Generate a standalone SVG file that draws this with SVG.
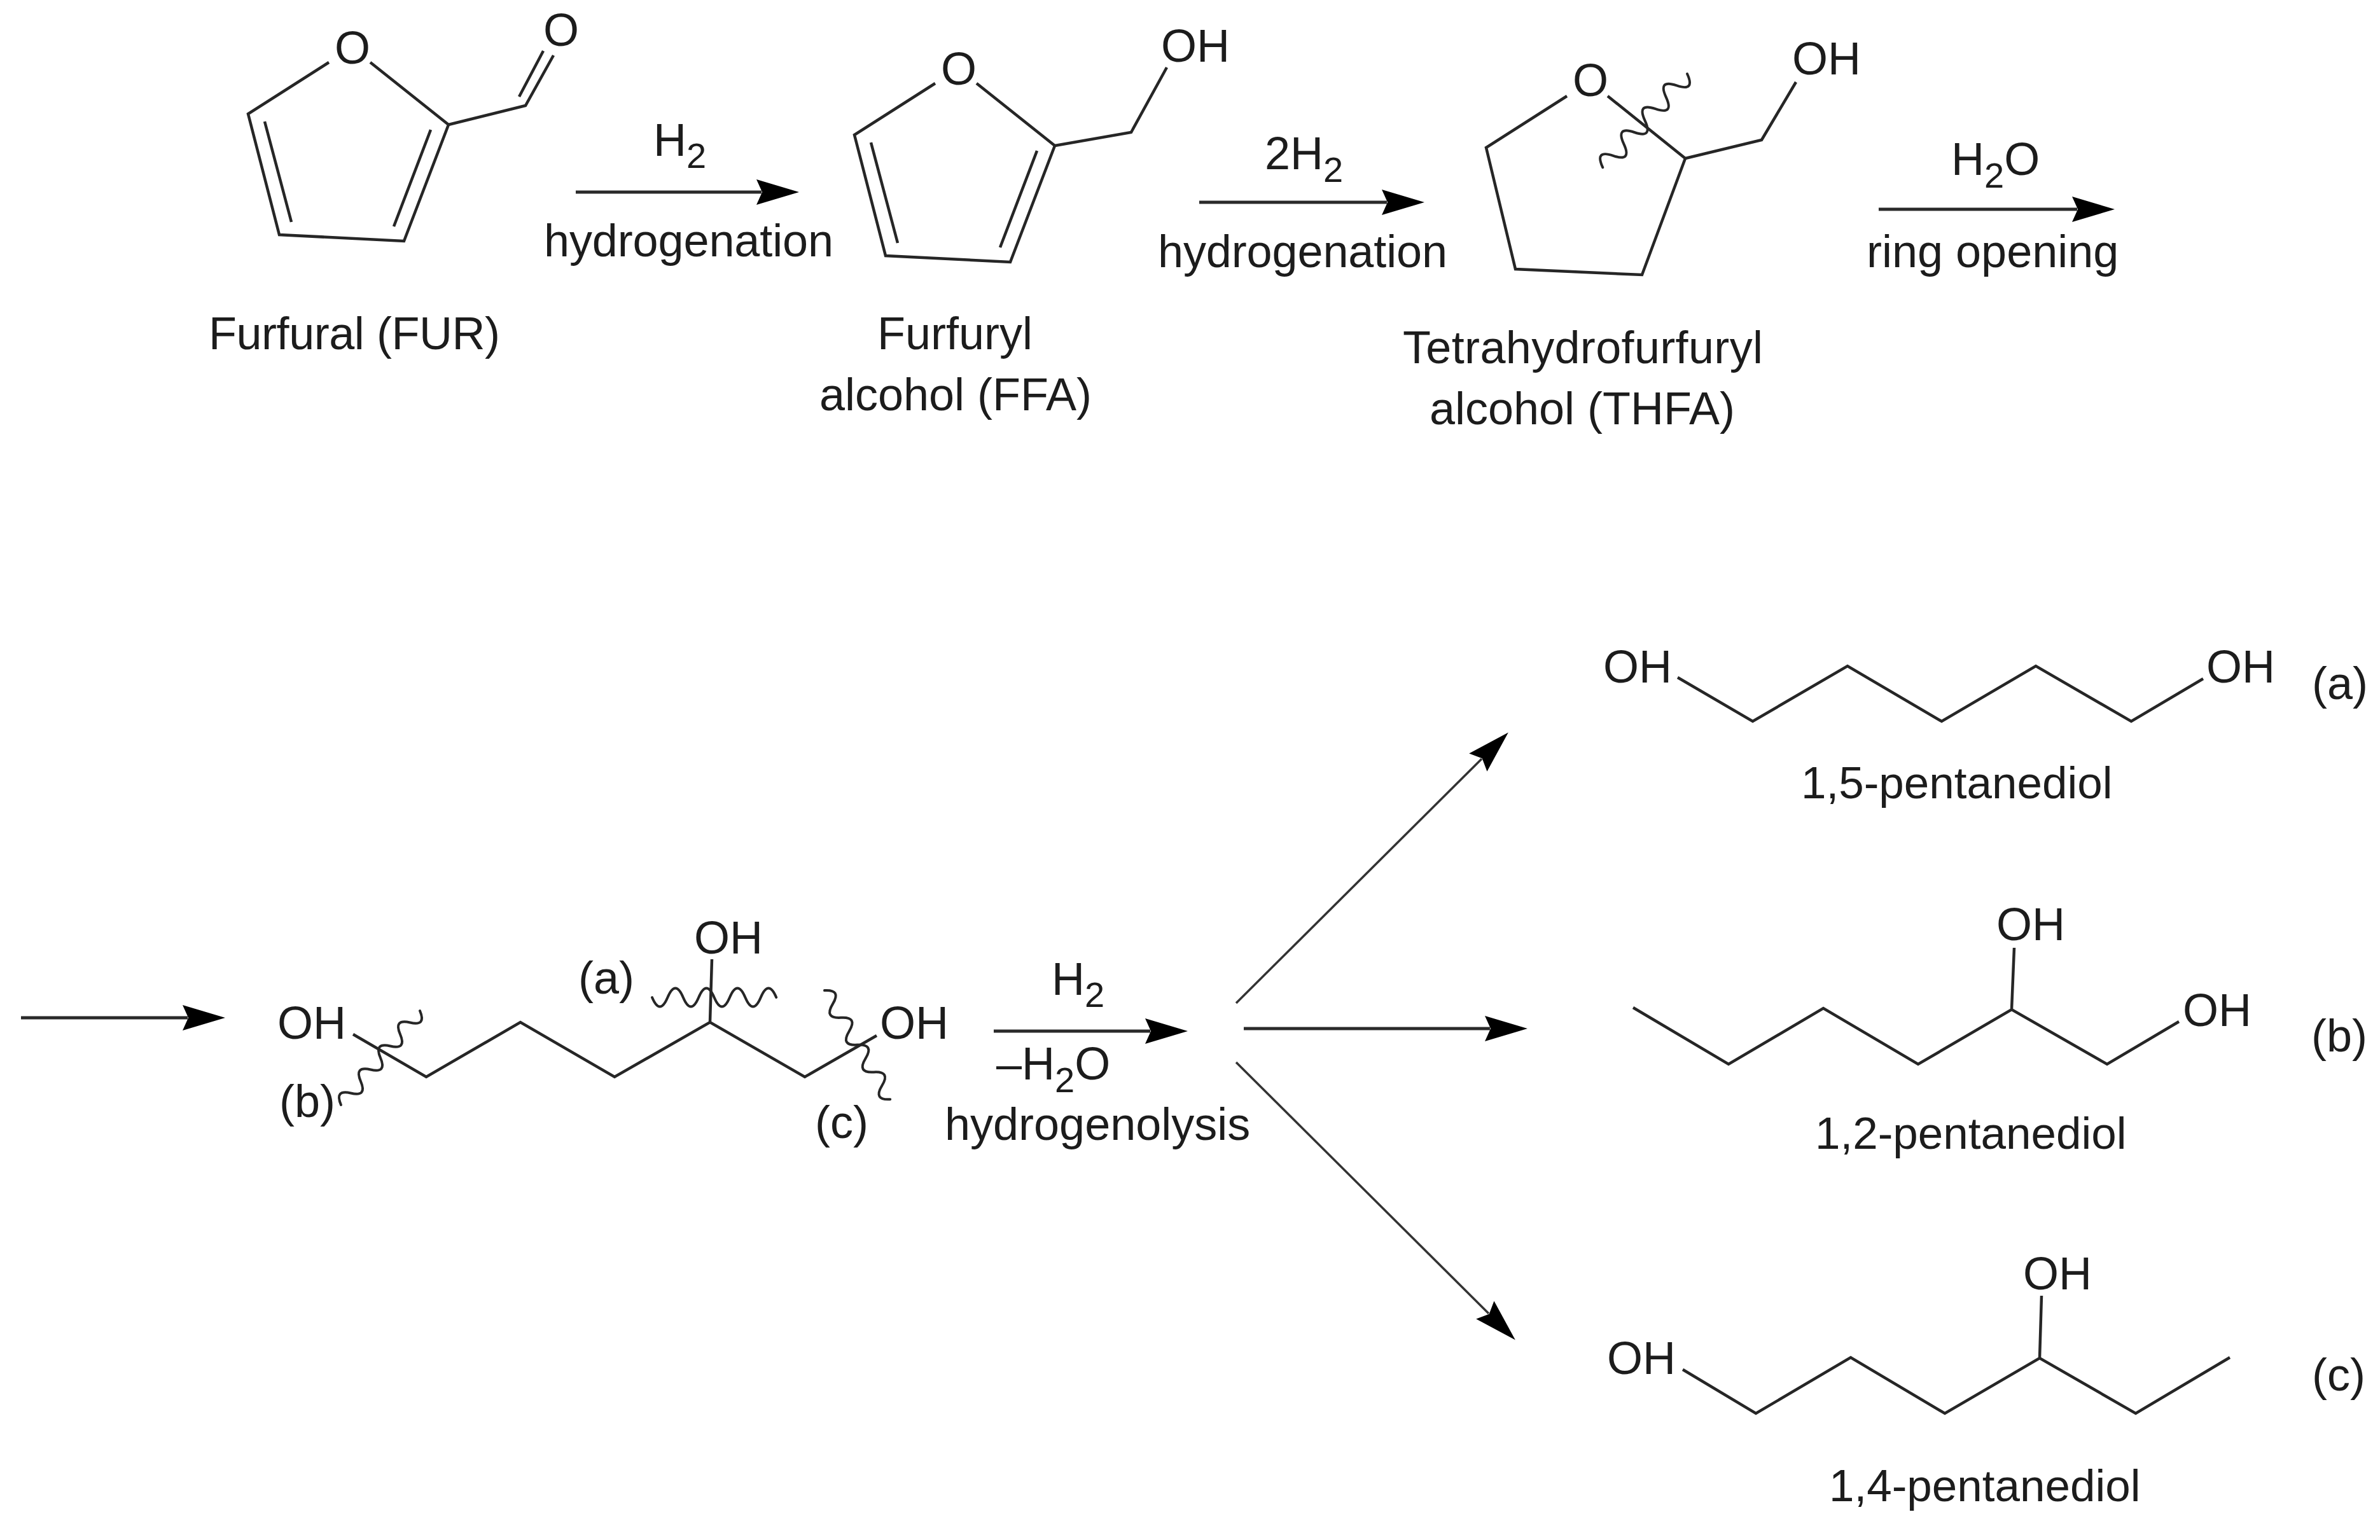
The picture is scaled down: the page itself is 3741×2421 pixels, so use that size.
<svg xmlns="http://www.w3.org/2000/svg" width="3741" height="2421" viewBox="0 0 3741 2421">
<style>
text{font-family:"Liberation Sans",Arial,sans-serif;font-size:72px;fill:#1c1c1c}
.sub{font-size:56px}
.name{font-size:71px}
.bond{fill:none;stroke:#262626;stroke-width:4.500;stroke-linejoin:miter;stroke-linecap:butt}
.wave{fill:none;stroke:#262626;stroke-width:4;stroke-linecap:round}
.arrow{fill:none;stroke:#2a2a2a;stroke-width:5}
.thin{fill:none;stroke:#333;stroke-width:3.5}
.m{text-anchor:middle}
</style>
<defs>
<marker id="head" markerUnits="userSpaceOnUse" markerWidth="72" markerHeight="46" refX="8" refY="23" orient="auto" viewBox="0 0 72 46"><path d="M0 3L67 23L0 43L9 23Z" fill="#000"/></marker>
</defs>
<rect width="3741" height="2421" fill="#fff"/>

<g id="connectors">
<line class="arrow" x1="905" y1="302" x2="1197" y2="302" marker-end="url(#head)"/>
<line class="arrow" x1="1885" y1="318" x2="2180" y2="318" marker-end="url(#head)"/>
<line class="arrow" x1="2953" y1="329" x2="3265" y2="329" marker-end="url(#head)"/>
<line class="arrow" x1="33" y1="1600" x2="295" y2="1600" marker-end="url(#head)"/>
<line class="arrow" x1="1562" y1="1621" x2="1808" y2="1621" marker-end="url(#head)"/>
<line class="thin" x1="1943" y1="1577" x2="2329" y2="1193" marker-end="url(#head)"/>
<line class="arrow" x1="1955" y1="1617" x2="2342" y2="1617" marker-end="url(#head)"/>
<line class="thin" x1="1943" y1="1670" x2="2340" y2="2065" marker-end="url(#head)"/>
</g>

<g id="furfural">
<path class="bond" d="M517 98L390 179L439 369L635 379L705 196L582 98"/>
<path class="bond" d="M416 191L458 349M677 204L619 356M705 196L826 166L870 87M816 152L854 80"/>
<text x="526" y="100">O</text>
<text x="854" y="72">O</text>
<text x="328" y="549" textLength="458">Furfural (FUR)</text>
</g>

<g id="ffa">
<path class="bond" d="M1470 131L1343 212L1392 402L1588 412L1658 229L1535 131"/>
<path class="bond" d="M1369 224L1411 382M1630 237L1572 389M1658 229L1778 208L1834 106"/>
<text x="1479" y="133">O</text>
<text x="1825" y="97">OH</text>
<text class="m" x="1501" y="549">Furfuryl</text>
<text class="m" x="1502" y="645">alcohol (FFA)</text>
</g>

<g id="thfa">
<path class="bond" d="M2463 151L2336 232L2382 423L2581 432L2649 249L2527 151"/>
<path class="bond" d="M2649 249L2769 220L2823 129"/>
<path class="wave" d="M2652 116q13.200 28.600 -16.600 18.400t-16.600 18.400t-16.600 18.400t-16.600 18.400t-16.600 18.400t-16.600 18.400t-16.600 18.400t-16.600 18.400"/>
<text x="2472" y="151">O</text>
<text x="2817" y="117">OH</text>
<text class="m" x="2488" y="571" textLength="566">Tetrahydrofurfuryl</text>
<text class="m" x="2487" y="667">alcohol (THFA)</text>
</g>

<g id="step-labels">
<text x="1027" y="245">H<tspan class="sub" dy="19">2</tspan></text>
<text x="855" y="403" textLength="455">hydrogenation</text>
<text x="1988" y="266">2H<tspan class="sub" dy="20">2</tspan></text>
<text x="1820" y="420" textLength="455">hydrogenation</text>
<text x="3067" y="275">H<tspan class="sub" dy="20">2</tspan><tspan dy="-20">O</tspan></text>
<text x="2934" y="420">ring opening</text>
<text x="1653" y="1564">H<tspan class="sub" dy="19">2</tspan></text>
<text x="1566" y="1697">–H<tspan class="sub" dy="20">2</tspan><tspan dy="-20">O</tspan></text>
<text x="1485" y="1792">hydrogenolysis</text>
</g>

<g id="triol">
<path class="bond" d="M555 1626L670 1693L818 1607L966 1693L1116 1607L1265 1693L1378 1628M1119 1508L1116 1607"/>
<path class="wave" d="M1025 1568q12.200 29 24.400 0t24.400 0t24.400 0t24.400 0t24.400 0t24.400 0t24.400 0t24.400 0"/>
<path class="wave" d="M660 1589q10.600 24.600 -15.500 18.500t-15.500 18.500t-15.500 18.500t-15.500 18.500t-15.500 18.500t-15.500 18.500t-15.500 18.500t-15.500 18.500"/>
<path class="wave" d="M1296 1557q27 -1.700 12.900 21.400t12.900 21.400t12.900 21.400t12.900 21.400t12.900 21.400t12.900 21.400t12.900 21.400t12.900 21.400"/>
<text x="436" y="1633">OH</text>
<text x="1091" y="1499">OH</text>
<text x="1383" y="1633">OH</text>
<text x="909" y="1562">(a)</text>
<text x="439" y="1756">(b)</text>
<text x="1281" y="1789">(c)</text>
</g>

<g id="pentanediol-15">
<path class="bond" d="M2637 1065L2755 1134L2904 1047L3052 1134L3200 1047L3350 1134L3463 1067"/>
<text x="2520" y="1073">OH</text>
<text x="3468" y="1073">OH</text>
<text x="3634" y="1099">(a)</text>
<text class="name" x="2831" y="1255">1,5-pentanediol</text>
</g>

<g id="pentanediol-12">
<path class="bond" d="M2567 1584L2717 1673L2866 1585L3015 1673L3162 1587L3312 1673L3425 1606M3166 1490L3162 1587"/>
<text x="3138" y="1478">OH</text>
<text x="3431" y="1613">OH</text>
<text x="3633" y="1653">(b)</text>
<text class="name" x="2853" y="1806">1,2-pentanediol</text>
</g>

<g id="pentanediol-14">
<path class="bond" d="M2645 2153L2760 2222L2909 2134L3057 2222L3206 2135L3357 2222L3505 2134M3209 2037L3206 2135"/>
<text x="3180" y="2027">OH</text>
<text x="2526" y="2160">OH</text>
<text x="3634" y="2186">(c)</text>
<text class="name" x="2875" y="2360">1,4-pentanediol</text>
</g>
</svg>
